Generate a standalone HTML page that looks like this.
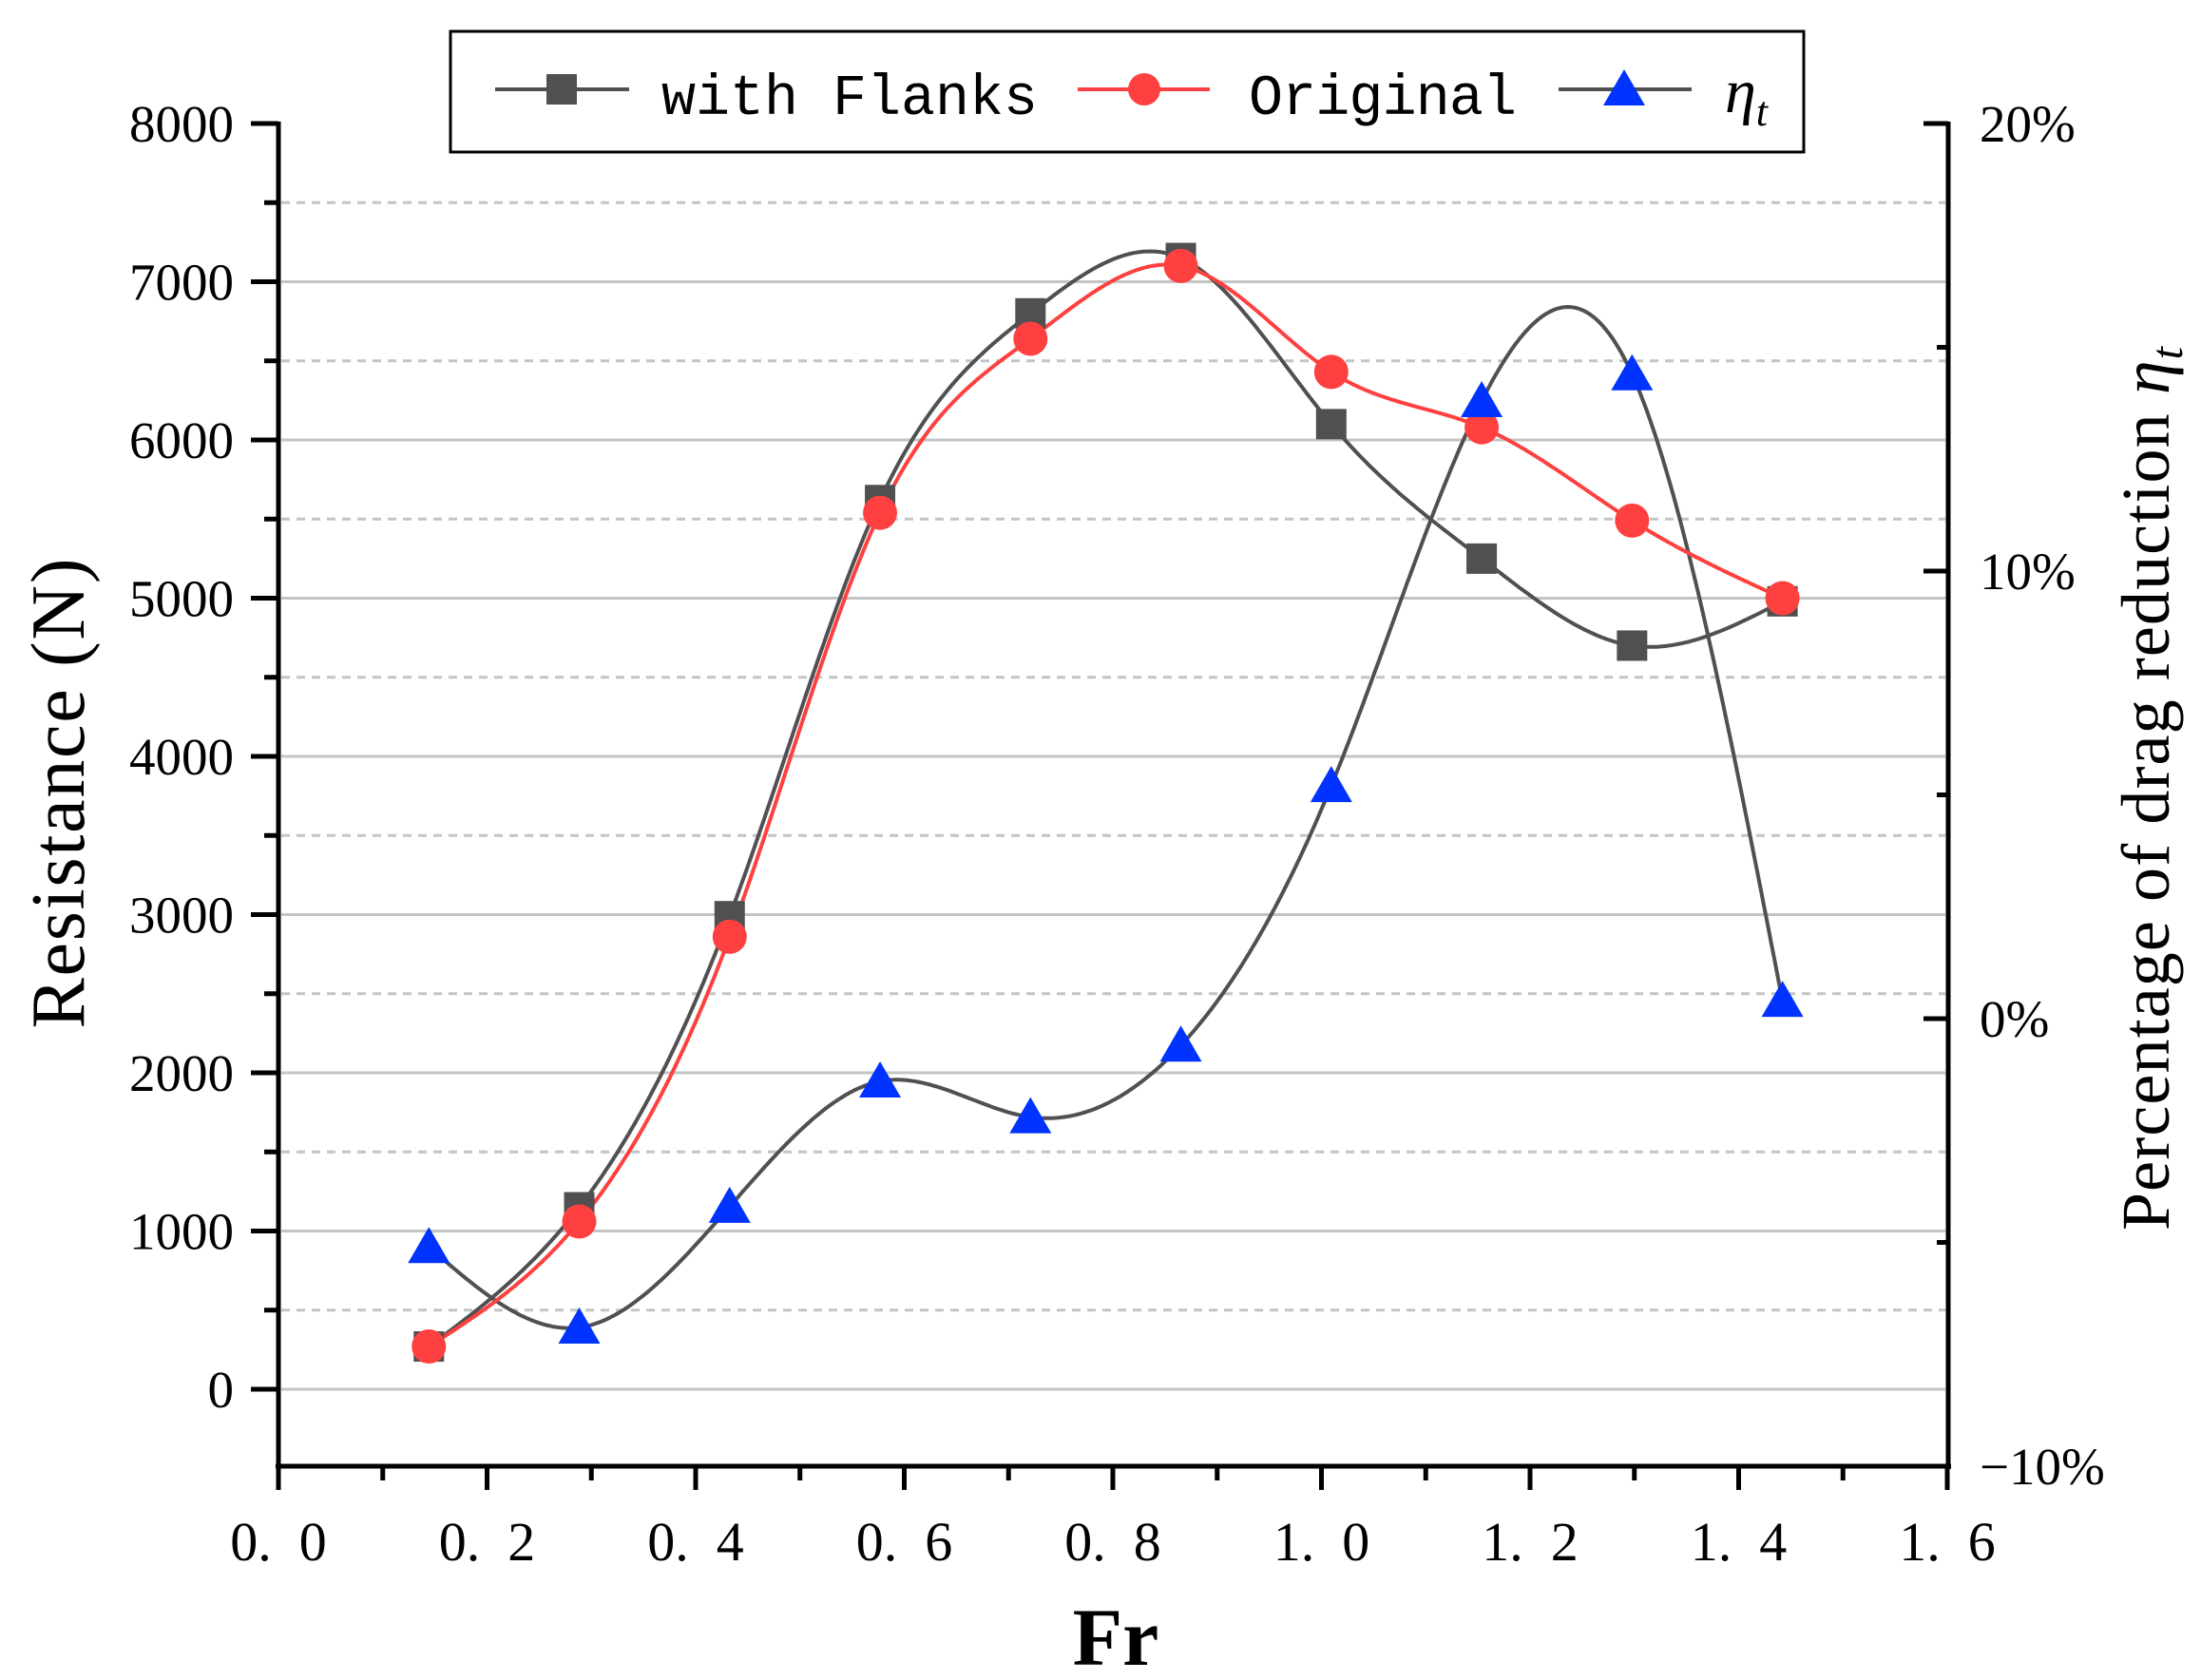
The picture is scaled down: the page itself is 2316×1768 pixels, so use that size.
<!DOCTYPE html>
<html><head><meta charset="utf-8">
<style>
html,body{margin:0;padding:0;background:#fff;}
svg{display:block;}
</style></head>
<body>
<svg id="s" xmlns="http://www.w3.org/2000/svg" width="2316" height="1768" viewBox="0 0 2316 1768">
<rect width="2316" height="1768" fill="#fff"/>
<g id="grid"></g>
<g id="curves" fill="none" stroke-width="4"></g>
<g id="marks"></g>
<g id="axes" stroke="#000" stroke-width="5" fill="none"></g>
<g id="labels" font-family="Liberation Serif, serif" font-size="55" fill="#000"></g>
<!-- legend -->
<rect x="474" y="33" width="1424" height="127" fill="#fff" stroke="#000" stroke-width="3"/>
<line x1="521" y1="94" x2="662" y2="94" stroke="#505050" stroke-width="4"/>
<rect x="575" y="78" width="32" height="32" fill="#505050"/>
<text x="696" y="120" font-family="Liberation Mono, monospace" font-size="60" fill="#000" textLength="396">with Flanks</text>
<line x1="1134" y1="94" x2="1273" y2="94" stroke="#ff4040" stroke-width="4"/>
<circle cx="1204" cy="94" r="17" fill="#ff4040"/>
<text x="1314" y="120" font-family="Liberation Mono, monospace" font-size="60" fill="#000" textLength="282">Original</text>
<line x1="1640" y1="94" x2="1780" y2="94" stroke="#505050" stroke-width="4"/>
<polygon points="1709,73 1731,111 1687,111" fill="#0033ff"/>
<text x="1815" y="118" font-family="Liberation Serif, serif" font-style="italic" font-size="66" fill="#000">η<tspan font-size="44" dy="14">t</tspan></text>
<!-- axis titles -->
<text transform="translate(88,835) rotate(-90)" text-anchor="middle" font-family="Liberation Serif, serif" font-size="80" fill="#000" textLength="495">Resistance (N)</text>
<text transform="translate(2282,830) rotate(-90)" text-anchor="middle" font-family="Liberation Serif, serif" font-size="72" fill="#000" textLength="930">Percentage of drag reduction <tspan font-style="italic">η</tspan><tspan font-style="italic" font-size="48" dy="14">t</tspan></text>
<text x="1174" y="1752" text-anchor="middle" font-family="Liberation Serif, serif" font-weight="bold" font-size="86" fill="#000">Fr</text>
</svg>
<script>
const NS="http://www.w3.org/2000/svg";
const X=f=>293+f*1097.5, Y=n=>1462-n*0.1665, P=p=>1072-p*47.1;
function el(tag,attrs,parent,text){const e=document.createElementNS(NS,tag);for(const k in attrs)e.setAttribute(k,attrs[k]);if(text!==undefined)e.textContent=text;parent.appendChild(e);return e;}
const g=document.getElementById('grid'),cv=document.getElementById('curves'),mk=document.getElementById('marks'),ax=document.getElementById('axes'),lb=document.getElementById('labels');
for(let n=0;n<=7500;n+=500){
  const y=Y(n);
  if(n%1000===0) el('line',{x1:296,x2:2047,y1:y,y2:y,stroke:'#c4c4c4','stroke-width':3},g);
  else el('line',{x1:296,x2:2047,y1:y,y2:y,stroke:'#c4c4c4','stroke-width':3,'stroke-dasharray':'9 7'},g);
}
el('line',{x1:293,y1:128,x2:293,y2:1546},ax);
el('line',{x1:2050,y1:128,x2:2050,y2:1546},ax);
el('line',{x1:290,y1:1543,x2:2053,y2:1543},ax);
for(let n=0;n<=8000;n+=500){const y=Y(n);el('line',{x1:n%1000?278:264,x2:293,y1:y,y2:y},ax);
  if(n%1000===0) el('text',{x:246,y:y+19,'text-anchor':'end'},lb,String(n));}
for(let i=0;i<=16;i++){const x=X(i/10);el('line',{x1:x,x2:x,y1:1543,y2:i%2?1558:1568},ax);
  if(i%2===0){const v=(i/10).toFixed(1);el('text',{x:x,y:1642,'text-anchor':'middle','font-size':'58'},lb,v.replace('.','.\u2002'));}}
[20,15,10,5,0,-5,-10].forEach(p=>{const y=P(p);el('line',{x1:p%10?2038:2024,x2:2050,y1:y,y2:y},ax);
  if(p%10===0) el('text',{x:2083,y:y+19},lb,(p<0?'\u2212':'')+Math.abs(p)+'%');});
const fx=[1,2,3,4,5,6,7,8,9,10].map(i=>i*0.1442);
const wf=[270,1150,2990,5620,6800,7150,6100,5250,4700,4980];
const og=[270,1060,2860,5540,6640,7100,6430,6080,5490,5000];
const et=[-5.1,-6.9,-4.2,-1.4,-2.2,-0.6,5.2,13.8,14.4,0.4];
function spline(xs,ys){const n=xs.length,h=[],a=[],l=[1],mu=[0],z=[0],c=new Array(n).fill(0),b=[],d=[];
  for(let i=0;i<n-1;i++)h.push(xs[i+1]-xs[i]);
  for(let i=1;i<n-1;i++)a[i]=3/h[i]*(ys[i+1]-ys[i])-3/h[i-1]*(ys[i]-ys[i-1]);
  for(let i=1;i<n-1;i++){l[i]=2*(xs[i+1]-xs[i-1])-h[i-1]*mu[i-1];mu[i]=h[i]/l[i];z[i]=(a[i]-h[i-1]*z[i-1])/l[i];}
  c[n-1]=0;for(let j=n-2;j>=1;j--)c[j]=z[j]-mu[j]*c[j+1];c[0]=0;
  for(let j=0;j<n-1;j++){b[j]=(ys[j+1]-ys[j])/h[j]-h[j]*(c[j+1]+2*c[j])/3;d[j]=(c[j+1]-c[j])/(3*h[j]);}
  const pts=[];for(let j=0;j<n-1;j++){for(let k=0;k<40;k++){const t=h[j]*k/40;pts.push([xs[j]+t,ys[j]+b[j]*t+c[j]*t*t+d[j]*t*t*t]);}}
  pts.push([xs[n-1],ys[n-1]]);return pts;}
function path(ys,map,color){const pts=spline(fx,ys);el('polyline',{points:pts.map(p=>X(p[0]).toFixed(1)+','+map(p[1]).toFixed(1)).join(' '),stroke:color,'stroke-linejoin':'round'},cv);}
path(wf,Y,'#505050');path(et,P,'#505050');path(og,Y,'#ff4040');
fx.forEach((f,i)=>{const x=X(f);el('rect',{x:x-16,y:Y(wf[i])-16,width:32,height:32,fill:'#505050'},mk);});
fx.forEach((f,i)=>{const x=X(f);el('circle',{cx:x,cy:Y(og[i]),r:18,fill:'#ff4040'},mk);});
fx.forEach((f,i)=>{const x=X(f),y=P(et[i]);el('polygon',{points:`${x},${y-21} ${x+22},${y+17} ${x-22},${y+17}`,fill:'#0033ff'},mk);});
</script>
</body></html>
